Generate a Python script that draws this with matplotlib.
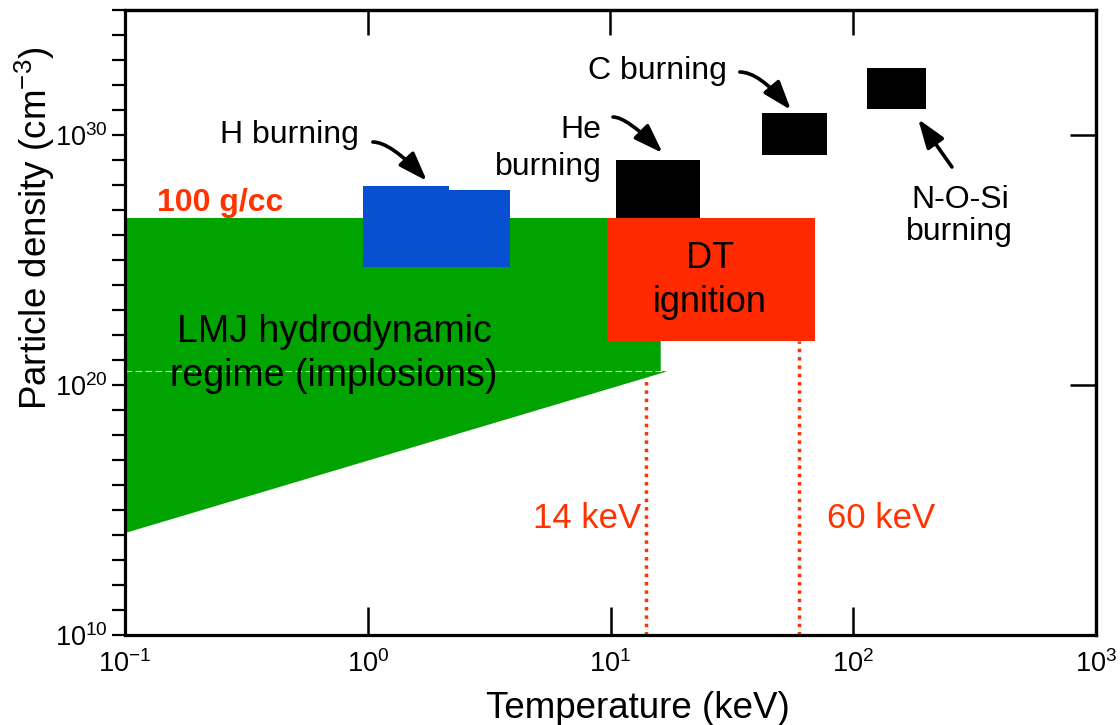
import numpy as np
import matplotlib.pyplot as plt
from matplotlib.patches import Rectangle
from matplotlib.ticker import FixedLocator, NullLocator

plt.rcParams['font.family'] = ['Liberation Sans', 'DejaVu Sans']
plt.rcParams['mathtext.fontset'] = 'custom'
plt.rcParams['mathtext.rm'] = 'Liberation Sans'

# burning regimes: temperature range (keV) and particle density range (cm^-3)
burn_names = ["H", "H", "He", "C", "N-O-Si"]
burn_T_min = [0.96, 2.16, 10.5, 42.0, 114.0]
burn_T_max = [2.16, 3.86, 23.4, 78.0, 199.0]
burn_n_min = [5.2e24, 5.2e24, 4.8e26, 1.6e29, 1.1e31]
burn_n_max = [9.1e27, 6.3e27, 1.0e29, 7.6e30, 4.8e32]

# DT ignition window
dt_T = [9.7, 69.5]
dt_n = [5.75e21, 4.8e26]

# LMJ hydrodynamic regime outline
lmj_T = [0.1, 16.1, 16.1, 17.3, 0.1]
lmj_n = [4.8e26, 4.8e26, 3.6e20, 3.6e20, 1.2e14]

# ignition temperatures
ign_T = [14, 60]
ign_n_top = [3.6e20, 5.75e21]

x_ticks = [0.1, 1, 10, 100, 1000]
x_labels = [r'$\mathregular{10^{-1}}$', r'$\mathregular{10^{0}}$', r'$\mathregular{10^{1}}$',
            r'$\mathregular{10^{2}}$', r'$\mathregular{10^{3}}$']
y_ticks = [10.0 ** k for k in range(10, 36)]
y_labels = {10: r'$\mathregular{10^{10}}$', 20: r'$\mathregular{10^{20}}$', 30: r'$\mathregular{10^{30}}$'}

GREEN = '#00A300'
RED = '#FF2A00'
BLUE = '#0850D2'
RED_TXT = '#FF3300'

fig = plt.figure(figsize=(11.2, 7.25), dpi=100)
ax = fig.add_axes([125 / 1120, 1 - 635 / 725, 971 / 1120, 625 / 725])
ax.set_xscale('log')
ax.set_yscale('log')
ax.set_xlim(0.1, 1000)
ax.set_ylim(1e10, 1e35)

# regions
ax.fill(lmj_T, lmj_n, color=GREEN, lw=0, zorder=2)
ax.plot([lmj_T[0], lmj_T[3]], [lmj_n[2], lmj_n[3]], color='white', lw=0.8,
        ls=(0, (6, 3)), alpha=0.8, zorder=2.5)
ax.add_patch(Rectangle((dt_T[0], dt_n[0]), dt_T[1] - dt_T[0], dt_n[1] - dt_n[0],
                       color=RED, lw=0, zorder=3))
for i, name in enumerate(burn_names):
    c = BLUE if name == "H" else 'black'
    ax.add_patch(Rectangle((burn_T_min[i], burn_n_min[i]), burn_T_max[i] - burn_T_min[i],
                           burn_n_max[i] - burn_n_min[i], color=c, lw=0, zorder=3))

for T, ntop in zip(ign_T, ign_n_top):
    ax.plot([T, T], [1e10, ntop], color=RED_TXT, lw=2.5, ls=(0, (1, 1.4)), zorder=1)

# text
ax.text(0.1355, 10 ** 26.96, "100 g/cc", color=RED_TXT, fontsize=23, fontweight='bold',
        ha='left', va='baseline', zorder=5)
ax.text(0.726, 10 ** 21.72, "LMJ hydrodynamic", fontsize=27, ha='center', va='baseline', zorder=5)
ax.text(0.726, 10 ** 19.96, "regime (implosions)", fontsize=27, ha='center', va='baseline', zorder=5)
ax.text(25.7, 10 ** 24.68, "DT", fontsize=26, ha='center', va='baseline', zorder=5)
ax.text(25.7, 10 ** 22.92, "ignition", fontsize=26, ha='center', va='baseline', zorder=5)
ax.text(ign_T[0] * 0.953, 10 ** 14.28, "%d keV" % ign_T[0], color=RED_TXT, fontsize=25,
        ha='right', va='baseline')
ax.text(78, 10 ** 14.28, "%d keV" % ign_T[1], color=RED_TXT, fontsize=25,
        ha='left', va='baseline')

ax.text(0.92, 10 ** 29.68, "H burning", fontsize=23, ha='right', va='baseline')
ax.text(9.2, 10 ** 29.88, "He", fontsize=23, ha='right', va='baseline')
ax.text(9.2, 10 ** 28.4, "burning", fontsize=23, ha='right', va='baseline')
ax.text(30.2, 10 ** 32.24, "C burning", fontsize=23, ha='right', va='baseline')
ax.text(275, 10 ** 27.08, "N-O-Si", fontsize=23, ha='center', va='baseline')
ax.text(275, 10 ** 25.8, "burning", fontsize=23, ha='center', va='baseline')

# arrows: (tail, head, connection)
arrows = [
    ((1.05, 10 ** 29.72), (1.754, 10 ** 28.16), 'angle3,angleA=0,angleB=-47'),
    ((10.24, 10 ** 30.72), (16.4, 10 ** 29.28), 'angle3,angleA=0,angleB=-45'),
    ((34.1, 10 ** 32.52), (55.4, 10 ** 31.0), 'angle3,angleA=0,angleB=-50'),
    ((255, 10 ** 28.72), (185, 10 ** 30.64), 'arc3,rad=0'),
]
for tail, head, cs in arrows:
    ax.annotate('', xy=head, xytext=tail,
                arrowprops=dict(arrowstyle='-|>,head_length=0.8,head_width=0.28', lw=2.6,
                                color='black', connectionstyle=cs, shrinkA=0, shrinkB=0,
                                mutation_scale=22), zorder=6)

# axes
for s in ax.spines.values():
    s.set_linewidth(2.3)
    s.set_zorder(7)

ax.xaxis.set_major_locator(FixedLocator(x_ticks))
ax.xaxis.set_minor_locator(NullLocator())
ax.set_xticklabels(x_labels)
ax.tick_params(axis='x', direction='in', length=20, width=1.8, pad=11, labelsize=19.5)

ax.yaxis.set_major_locator(FixedLocator(y_ticks))
ax.yaxis.set_minor_locator(NullLocator())
ax.set_yticklabels([y_labels.get(int(round(np.log10(v))), '') for v in y_ticks])
ax.tick_params(axis='y', direction='out', length=9.5, width=1.6, pad=3, labelsize=19.5)

top = ax.secondary_xaxis('top')
top.xaxis.set_major_locator(FixedLocator([1, 10, 100]))
top.xaxis.set_minor_locator(NullLocator())
top.tick_params(direction='in', length=18, width=1.8, labeltop=False)
top.spines['top'].set_linewidth(2.3)

right = ax.secondary_yaxis('right')
right.yaxis.set_major_locator(FixedLocator([1e20, 1e30]))
right.yaxis.set_minor_locator(NullLocator())
right.tick_params(direction='in', length=19, width=1.8, labelright=False)
right.spines['right'].set_linewidth(2.3)

fig.text(638 / 1120, 1 - 718 / 725, "Temperature (keV)", fontsize=26.5, ha='center', va='baseline')
fig.text(35 / 1120, 1 - 228 / 725, "Particle density (cm$^{-3}$)", fontsize=26.5,
         rotation=90, ha='center', va='center')

fig.savefig('out.png', dpi=100)
